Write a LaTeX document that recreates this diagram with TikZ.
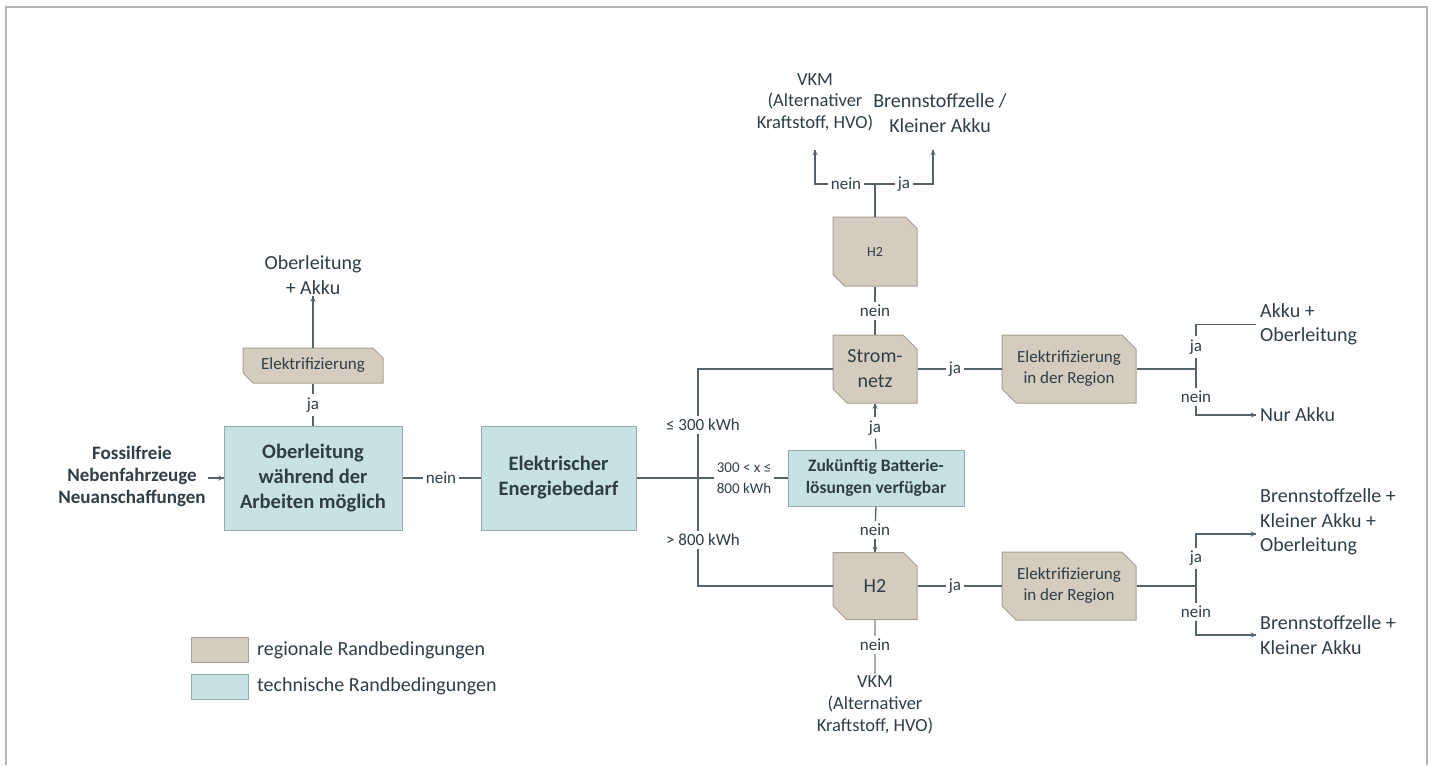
\documentclass[tikz,border=0pt]{standalone}
\usepackage{fontspec}
\setmainfont{Carlito}
\usetikzlibrary{shapes.misc,decorations.markings}
\definecolor{ink}{HTML}{2F3E46}
\definecolor{wire}{HTML}{56636B}
\definecolor{wirelight}{HTML}{A9B0B4}
\definecolor{regfill}{HTML}{D4CCBF}
\definecolor{regline}{HTML}{A89F92}
\definecolor{techfill}{HTML}{C7E1E5}
\definecolor{techline}{HTML}{93AEB2}
\definecolor{framegray}{HTML}{B4B4B4}

\begin{document}
\begin{tikzpicture}[x=1pt, y=-1pt,
  every node/.style={text=ink, align=center},
  txt/.style={font=\fontsize{20}{24.5}\selectfont, inner sep=2pt},
  outc/.style={txt, anchor=west, align=left, inner sep=4pt},
  lbl/.style={font=\fontsize{17}{20}\selectfont, inner sep=3pt},
  tech/.style={draw=techline, fill=techfill, line width=1pt, font=\bfseries\fontsize{20.5}{25}\selectfont},
  regio/.style={chamfered rectangle, chamfered rectangle corners={north east,south west},
    chamfered rectangle sep=7pt, draw=regline, fill=regfill, line width=1pt,
    inner sep=0pt, font=\fontsize{20}{25}\selectfont},
  conn/.style={draw=wire, line width=1.3pt},
  heavy/.style={draw=wire, line width=2.4pt},
  arr/.style={decoration={markings,mark=at position 1 with {\arrow{stealth}}},postaction={decorate}}]
\useasboundingbox (0,0) rectangle (1431,765);
\draw[framegray, line width=2pt] (6,765) -- (6,7) -- (1427,7) -- (1427,765);

% left part
\node[txt, font=\bfseries\fontsize{19}{22}\selectfont] (start) at (132,476) {Fossilfreie\\Nebenfahrzeuge\\Neuanschaffungen};
\node[tech, minimum width=178pt, minimum height=104pt] (ober) at (313,478) {Oberleitung\\während der\\Arbeiten möglich};
\node[regio, chamfered rectangle sep=5pt, minimum width=140pt, minimum height=35pt, font=\fontsize{17}{20}\selectfont] (elek) at (313,365.5) {Elektrifizierung};
\node[txt] (ergOA) at (313,275) {Oberleitung\\+ Akku};
\node[lbl] (ja0) at (313,405) {ja};
\node[lbl] (nein0) at (441,478) {nein};
\node[tech, minimum width=155pt, minimum height=104pt] (bedarf) at (558.5,478) {Elektrischer\\Energiebedarf};
\draw[conn,arr] (start.east |- ober.west) -- (ober.west);
\draw[conn] (ober.north) -- (ja0);
\draw[conn] (ja0) -- (elek.south);
\draw[conn,arr] (elek.north) -- (ergOA.south);
\draw[conn] (ober.east) -- (nein0);
\draw[conn] (nein0) -- (bedarf.west);

% Energiebedarf verzweigt
\coordinate (j) at (698,478);
\node[lbl] (le300) at (703,425) {≤ 300 kWh};
\node[lbl] (gt800) at (703,540) {> 800 kWh};
\node[lbl, font=\fontsize{15}{21}\selectfont] (mid) at (744,478) {300 < x ≤\\800 kWh};
\node[tech, minimum width=176pt, minimum height=56pt, font=\bfseries\fontsize{17.5}{22}\selectfont] (zukunft) at (876,478) {Zukünftig Batterie-\\lösungen verfügbar};
\node[regio, minimum width=84pt, minimum height=68pt] (netz) at (875,369) {Strom-\\netz};
\node[regio, minimum width=84pt, minimum height=67pt] (hzwo) at (875,586) {H2};
\node[regio, minimum width=84pt, minimum height=69pt, font=\fontsize{14}{16}\selectfont] (hzwoo) at (875,251.5) {H2};
\draw[heavy] (bedarf.east) -- (j);
\draw[conn] (j) -- (mid.west);
\draw[conn] (mid.east) -- (zukunft.west);
\draw[conn] (j |- le300.south) -- (j |- gt800.north);
\draw[conn] (j |- le300.north) |- (netz.west);
\draw[conn] (j |- gt800.south) |- (hzwo.west);
\node[lbl] (jaN) at (875,428) {ja};
\node[lbl] (neinN) at (875,530) {nein};
\node[lbl] (neinH) at (875,311) {nein};
\draw[conn] (zukunft.north) -- (jaN);
\draw[conn,arr] (jaN) -- (netz.south);
\draw[conn] (zukunft.south) -- (neinN);
\draw[conn,arr] (neinN) -- (hzwo.north);
\draw[conn] (netz.north) -- (neinH);
\draw[conn] (neinH) -- (hzwoo.south);

% oben
\coordinate (t) at (875,184);
\coordinate (tl) at (815,150);
\coordinate (tr) at (933,150);
\node[lbl] (neinT) at (846,184) {nein};
\node[lbl] (jaT) at (904,184) {ja};
\node[txt, font=\fontsize{18.5}{21.5}\selectfont] (vkmT) at (815,102) {VKM\\(Alternativer\\Kraftstoff, HVO)};
\node[txt] (bzT) at (940,113) {Brennstoffzelle /\\Kleiner Akku};
\draw[conn] (hzwoo.north) -- (t);
\draw[conn] (t) -- (neinT);
\draw[conn] (t) -- (jaT);
\draw[conn,arr] (neinT.west) -| (tl);
\draw[conn,arr] (jaT.east) -| (tr);

% unten
\node[lbl] (neinU) at (875,645) {nein};
\node[txt, font=\fontsize{18.5}{22}\selectfont] (vkmU) at (875,705) {VKM\\(Alternativer\\Kraftstoff, HVO)};
\draw[conn, draw=wirelight] (hzwo.south) -- (neinU);
\draw[conn, draw=wirelight] (neinU) -- (vkmU);

% rechts, Stromnetz
\node[lbl] (jaS) at (955,369) {ja};
\node[regio, minimum width=134pt, minimum height=68pt, font=\fontsize{17}{21}\selectfont] (regS) at (1069,369) {Elektrifizierung\\in der Region};
\coordinate (gS) at (1196,369);
\node[lbl] (jaS2) at (1196,347) {ja};
\node[lbl] (neinS2) at (1196,397) {nein};
\node[outc] (akkuOL) at (1256,324.5) {Akku +\\Oberleitung};
\node[outc] (nurA) at (1256,415) {Nur Akku};
\draw[conn] (netz.east) -- (jaS);
\draw[conn] (jaS) -- (regS.west);
\draw[heavy] (regS.east) -- (gS);
\draw[conn] (jaS2) -- (neinS2);
\draw[conn] (jaS2.north) |- (akkuOL.west);
\draw[conn,arr] (neinS2.south) |- (nurA.west);

% rechts, H2
\node[lbl] (jaH) at (955,586) {ja};
\node[regio, minimum width=134pt, minimum height=68pt, font=\fontsize{17}{21}\selectfont] (regH) at (1069,586) {Elektrifizierung\\in der Region};
\coordinate (gH) at (1196,586);
\coordinate (pBZ) at (1256,534);
\node[lbl] (jaH2) at (1196,558) {ja};
\node[lbl] (neinH2) at (1196,612) {nein};
\node[outc] (bzAO) at (1256,522) {Brennstoffzelle +\\Kleiner Akku +\\Oberleitung};
\node[outc] (bzA) at (1256,635) {Brennstoffzelle +\\Kleiner Akku};
\draw[conn] (hzwo.east) -- (jaH);
\draw[conn] (jaH) -- (regH.west);
\draw[heavy] (regH.east) -- (gH);
\draw[conn] (jaH2) -- (neinH2);
\draw[conn,arr] (jaH2.north) |- (pBZ);
\draw[conn,arr] (neinH2.south) |- (bzA.west);

% Legende
\node[regio, chamfered rectangle sep=4pt, minimum width=57pt, minimum height=25pt] (legR) at (219.5,649.5) {};
\node[outc] (legRt) at (253,650) {regionale Randbedingungen};
\node[tech, minimum width=57pt, minimum height=25pt] (legT) at (219.5,686.5) {};
\node[outc] (legTt) at (253,686) {technische Randbedingungen};
\end{tikzpicture}
\end{document}
